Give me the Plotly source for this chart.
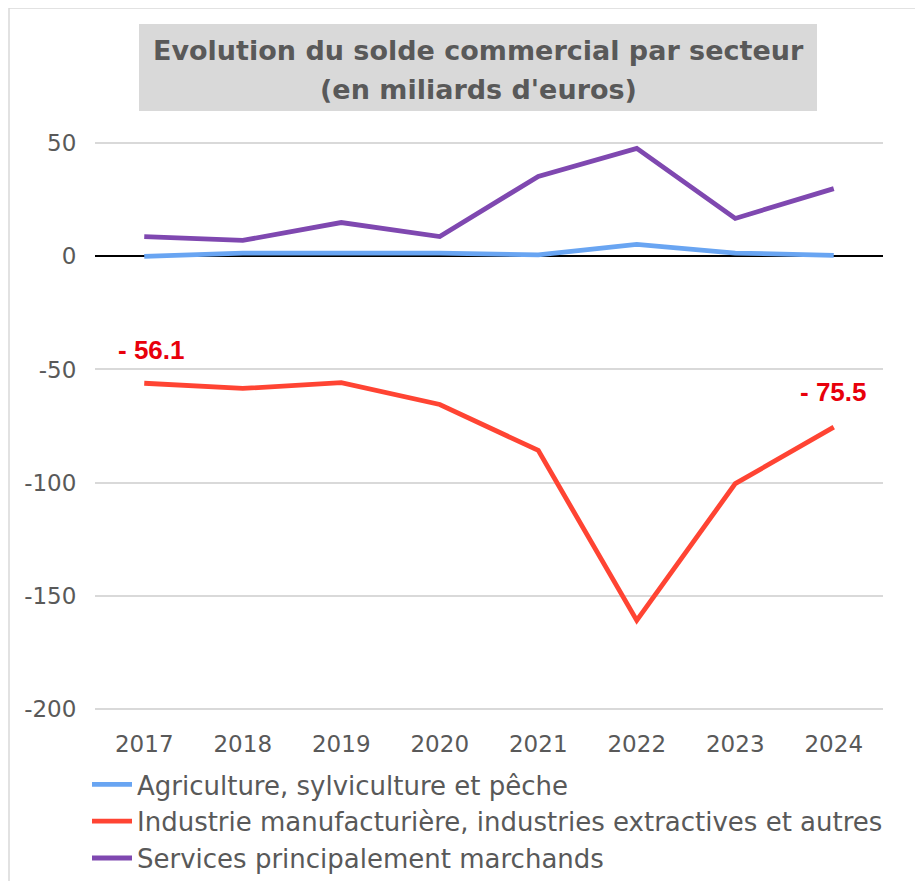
import plotly.graph_objects as go

years = ["2017", "2018", "2019", "2020", "2021", "2022", "2023", "2024"]
agriculture = [0.0, 1.5, 1.5, 1.5, 0.7, 5.3, 1.5, 0.5]
industrie = [-56.1, -58.4, -55.8, -65.5, -85.8, -161.0, -100.5, -75.5]
services = [8.8, 7.1, 15.0, 8.8, 35.4, 47.8, 16.8, 30.0]
y_ticks = [-200, -150, -100, -50, 0, 50]
y_tick_labels = ["-200", "-150", "-100", "-50", "0", "50"]
title_lines = ["Evolution du solde commercial par secteur", "(en miliards d'euros)"]

names = [
    "Agriculture, sylviculture et pêche",
    "Industrie manufacturière, industries extractives et autres",
    "Services principalement marchands",
]
colors = ["#69a5f2", "#ff4433", "#7f48b0"]
series = [agriculture, industrie, services]

W, H = 923, 881
OFF = 8  # page body margin
L, R, T, B = 87, 48, 132, 177
pw, ph = W - L - R, H - T - B

def px_x(p):  # page pixel -> paper x
    return (p - OFF - L) / pw

def px_y(p):  # page pixel -> paper y
    return (H - B - (p - OFF)) / ph

FONT = "DejaVu Sans"
GREY = "#595959"

fig = go.Figure()
for n, c, s in zip(names, colors, series):
    fig.add_trace(go.Scatter(x=years, y=s, name=n, mode="lines",
                             line=dict(color=c, width=4.8)))

# data labels for first and last industry values (x given as category index)
for i, ys, xs in [(0, 33, 7), (len(years) - 1, 35, 0)]:
    v = industrie[i]
    fig.add_annotation(x=i, y=v, text=f"- {abs(v):.1f}", showarrow=False,
                       yshift=ys, xshift=xs,
                       font=dict(family="Liberation Sans", size=26,
                                 color="#e8000b", weight="bold"))

# title box
fig.add_shape(type="rect", xref="paper", yref="paper",
              x0=px_x(139), x1=px_x(817), y0=px_y(111), y1=px_y(24),
              fillcolor="#d9d9d9", line=dict(width=0), layer="below")
for line_text, yc in zip(title_lines, [50, 90]):
    fig.add_annotation(xref="paper", yref="paper", x=px_x(478), y=px_y(yc),
                       text=f"<b>{line_text}</b>",
                       showarrow=False, font=dict(family=FONT, size=27, color=GREY),
                       xanchor="center", yanchor="middle")
# outer border
fig.add_shape(type="rect", xref="paper", yref="paper",
              x0=px_x(9), x1=px_x(1100), y0=px_y(1100), y1=px_y(8),
              line=dict(color="#d9d9d9", width=1.5), layer="below")

fig.update_layout(
    width=W, height=H,
    margin=dict(l=L, r=R, t=T, b=B, autoexpand=False),
    paper_bgcolor="white", plot_bgcolor="white",
    font=dict(family=FONT, size=23, color=GREY),
    showlegend=True,
    legend=dict(x=px_x(87), y=px_y(761), xanchor="left", yanchor="top",
                orientation="v", font=dict(family=FONT, size=26, color=GREY),
                bgcolor="rgba(0,0,0,0)", itemwidth=40, tracegroupgap=0),
    xaxis=dict(type="category", range=[-0.5, 7.5],
               showgrid=False, zeroline=False, showline=False,
               ticks="outside", ticklen=11, tickcolor="rgba(0,0,0,0)",
               automargin=False,
               tickfont=dict(family=FONT, size=23, color=GREY)),
    yaxis=dict(range=[-201.5, 51.5], tickvals=y_ticks, ticktext=y_tick_labels,
               showgrid=True, gridcolor="#d9d9d9", gridwidth=1.5,
               zeroline=True, zerolinecolor="#000000", zerolinewidth=1.5,
               ticks="outside", ticklen=13, tickcolor="rgba(0,0,0,0)",
               automargin=False,
               tickfont=dict(family=FONT, size=23, color=GREY)),
)

fig.write_html("out.html")
